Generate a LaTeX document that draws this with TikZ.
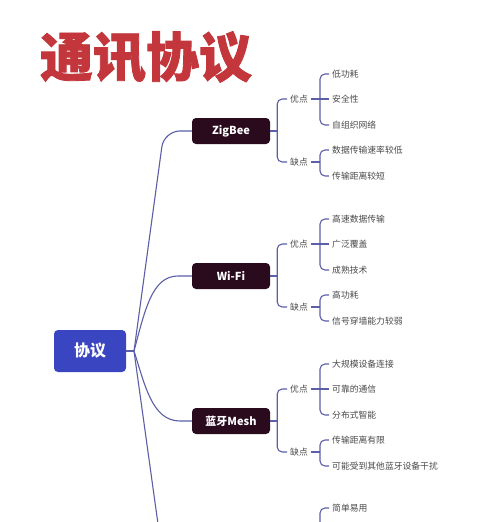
\documentclass[tikz,border=0pt]{standalone}
\usepackage{fontspec}
\setmainfont{Noto Sans CJK SC}
\newfontfamily\titlefont{Noto Sans CJK SC}[FakeBold=1.5]
\usetikzlibrary{calc}
\definecolor{linec}{HTML}{5B5EA8}
\definecolor{darkbox}{HTML}{2A0B1E}
\definecolor{rootblue}{HTML}{3A45C2}
\definecolor{titlered}{HTML}{C2363C}
\definecolor{leaftext}{HTML}{4A4A4A}
\tikzset{
  br/.style={draw=linec, line width=1.1pt, rounded corners=5pt},
  conn/.style={draw=linec, line width=1.1pt},
  secbox/.style={fill=darkbox, text=white, rounded corners=4pt, minimum width=78pt, minimum height=26pt, inner sep=0pt, font=\fontsize{11}{13}\selectfont\bfseries},
  rootbox/.style={fill=rootblue, text=white, rounded corners=4pt, minimum width=72pt, minimum height=42pt, inner sep=0pt, font=\fontsize{16}{18}\selectfont\bfseries},
  lbl/.style={anchor=west, inner xsep=3pt, inner ysep=1pt, text=leaftext, font=\fontsize{8.8}{10}\selectfont},
  leaf/.style={anchor=west, inner xsep=3pt, inner ysep=1pt, text=leaftext, font=\fontsize{8.8}{10}\selectfont},
  titlestyle/.style={text=titlered, inner sep=0pt, font=\fontsize{53}{56}\selectfont\titlefont\bfseries}
}
\newcommand\protgroup[8]{%
  \node[secbox] (#1) at (231,#3) {#2};
  \coordinate (#1b) at ($(#1.east)+(7,0)$);
  \node[lbl] (#1y) at (287,#3-32) {优点};
  \node[lbl] (#1q) at (287,#3+31) {缺点};
  \node[leaf] (#1a) at (329,#3-57) {#4};
  \node[leaf] (#1c) at (329,#3-32) {#5};
  \node[leaf] (#1d) at (329,#3-6) {#6};
  \node[leaf] (#1e) at (329,#3+19) {#7};
  \node[leaf] (#1f) at (329,#3+45) {#8};
  \coordinate (#1yb) at ($(#1y.east)+(9,0)$);
  \coordinate (#1qb) at ($(#1q.east)+(9,0)$);
  \draw[conn] (#1.east) -- (#1b);
  \draw[br] (#1y.west) -| (#1b) |- (#1q.west);
  \draw[conn] (#1y.east) -- (#1c.west);
  \draw[br] (#1a.west) -| (#1yb) |- (#1d.west);
  \draw[conn] (#1q.east) -- (#1qb);
  \draw[br] (#1e.west) -| (#1qb) |- (#1f.west);
}
\begin{document}
\begin{tikzpicture}[x=1pt,y=-1pt]
\fill[white] (0,0) rectangle (500,522);
\useasboundingbox (0,0) rectangle (500,522);
\node[titlestyle] (title) at (146,57) {通讯协议};
\node[rootbox] (root) at (90,351) {协议};
\coordinate (rb) at (134,351);
\protgroup{zig}{ZigBee}{131}{低功耗}{安全性}{自组织网络}{数据传输速率较低}{传输距离较短}
\protgroup{wifi}{Wi-Fi}{276}{高速数据传输}{广泛覆盖}{成熟技术}{高功耗}{信号穿墙能力较弱}
\protgroup{mesh}{蓝牙Mesh}{421}{大规模设备连接}{可靠的通信}{分布式智能}{传输距离有限}{可能受到其他蓝牙设备干扰}
% fourth branch (cut off)
\node[leaf] (easy) at (329,508) {简单易用};
\coordinate (easyb) at (320,530);
\coordinate (fourth) at (158,524);
\draw[conn] (root.east) -- (rb);
\draw[conn, rounded corners=16pt] (rb) -- (164,131) -- (zig.west);
\draw[conn] (rb) .. controls (145,310) and (152,276) .. (178,276) -- (wifi.west);
\draw[conn] (rb) .. controls (145,385) and (152,421) .. (180,421) -- (mesh.west);
\draw[conn] (rb) -- (fourth);
\draw[br] (easy.west) -| (easyb);
\end{tikzpicture}
\end{document}
